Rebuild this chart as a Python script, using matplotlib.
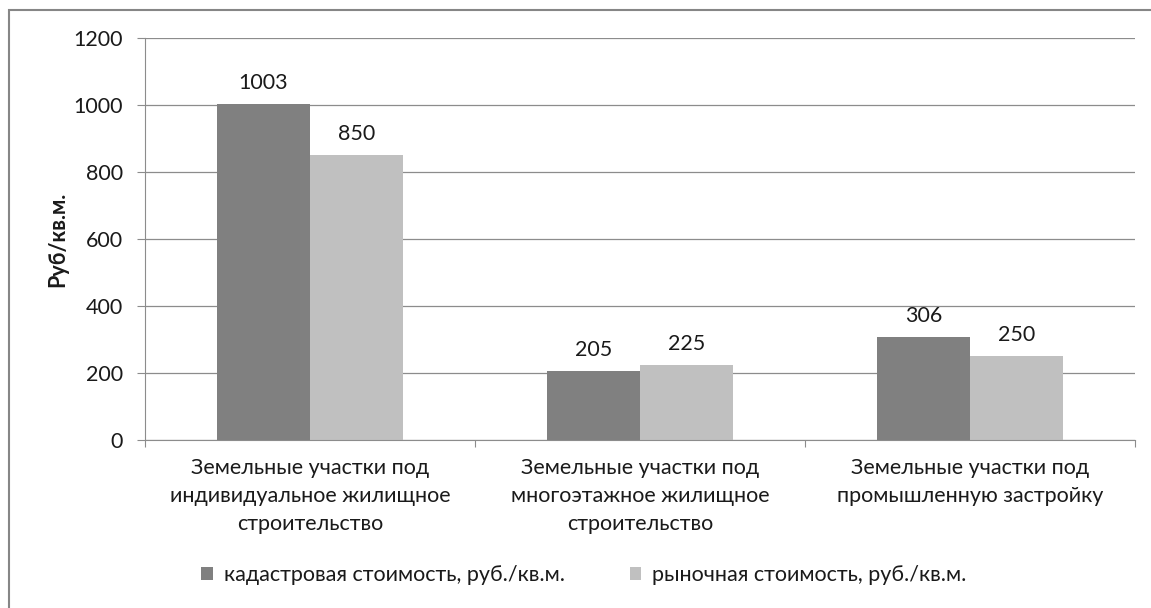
import matplotlib
matplotlib.use('Agg')
import matplotlib.pyplot as plt
import numpy as np
from matplotlib.patches import Rectangle

plt.rcParams['font.family'] = ['Lato', 'DejaVu Sans']

categories = ['Земельные участки под\nиндивидуальное жилищное\nстроительство',
              'Земельные участки под\nмногоэтажное жилищное\nстроительство',
              'Земельные участки под\nпромышленную застройку']
cadastral = [1003, 205, 306]
market = [850, 225, 250]
series_names = ['кадастровая стоимость, руб./кв.м.', 'рыночная стоимость, руб./кв.м.']
yticks = [0, 200, 400, 600, 800, 1000, 1200]

FS = 15.5
TXT = '#1a1a1a'

fig = plt.figure(figsize=(11.51, 6.08), dpi=100)
ax = fig.add_axes([145 / 1151, 1 - 440 / 608, 990 / 1151, 402 / 608])

# outer chart frame
fig.patches.append(Rectangle((9 / 1151, -0.1), 1.2, 1 - 10 / 608 + 0.1,
                             transform=fig.transFigure, fill=False,
                             edgecolor='#868686', linewidth=1.5))

x = np.arange(len(categories))
w = 0.283
b1 = ax.bar(x - w / 2, cadastral, w, color='#808080', label=series_names[0], zorder=2)
b2 = ax.bar(x + w / 2, market, w, color='#c0c0c0', label=series_names[1], zorder=2)

for bars in (b1, b2):
    for r in bars:
        ax.annotate(str(int(r.get_height())), (r.get_x() + r.get_width() / 2, r.get_height()),
                    xytext=(0, 8), textcoords='offset points', ha='center', va='bottom',
                    fontsize=FS, color=TXT)

ax.set_xlim(-0.5, len(categories) - 0.5)
ax.set_ylim(0, 1200)
ax.set_yticks(yticks)
ax.yaxis.grid(True, color='#8c8c8c', linewidth=0.9, zorder=0)
ax.set_axisbelow(True)

# category separators on the x axis
ax.set_xticks(np.arange(len(categories) + 1) - 0.5)
ax.set_xticklabels([])
ax.set_xticks(x, minor=True)
ax.set_xticklabels(categories, minor=True, fontsize=FS, color=TXT, linespacing=1.5)
ax.tick_params(axis='x', which='minor', length=0, pad=13)
ax.tick_params(axis='x', which='major', length=5, color='#8c8c8c')
ax.tick_params(axis='y', length=6, color='#8c8c8c', labelsize=FS, labelcolor=TXT, pad=10)

for s in ['top', 'right']:
    ax.spines[s].set_visible(False)
ax.spines['left'].set_color('#8c8c8c')
ax.spines['bottom'].set_color('#8c8c8c')

ax.set_ylabel('Руб/кв.м.', fontsize=FS, fontweight='bold', color=TXT, va='center')
ax.yaxis.set_label_coords((58 - 145) / 990, 0.5)

fig.legend(handles=[b1, b2], loc='center', bbox_to_anchor=(584 / 1151, 1 - 575 / 608),
           ncol=2, frameon=False, fontsize=FS, handlelength=0.55, handleheight=0.55,
           handletextpad=0.5, columnspacing=3.0, labelcolor=TXT)

fig.savefig('out.png', dpi=100)
